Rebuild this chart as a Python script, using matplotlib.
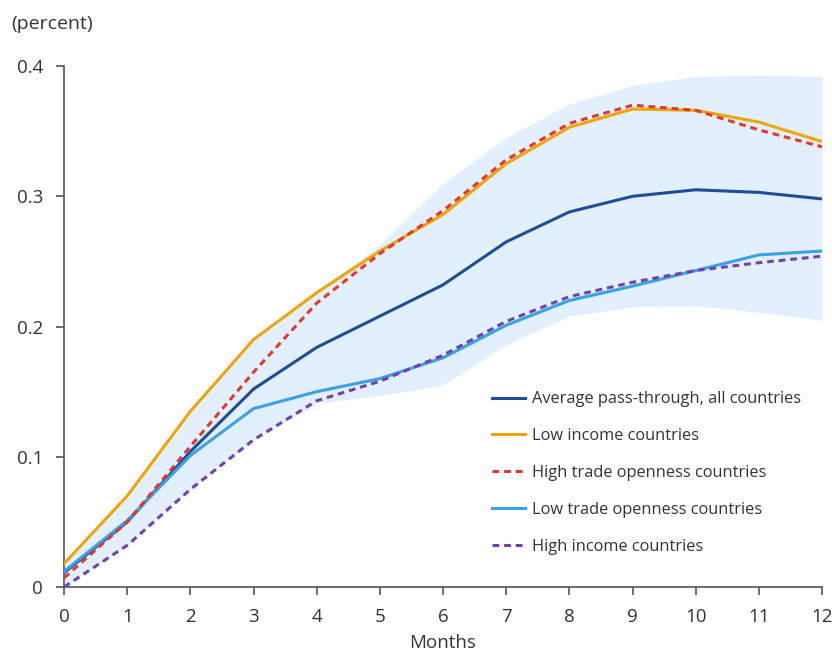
# Exchange rate pass-through by country group
import numpy as np
import matplotlib.pyplot as plt

plt.rcParams['font.family'] = ['Open Sans', 'DejaVu Sans']

months = np.arange(0, 13)

# pass-through estimates [percent]
avg_all = [0.011, 0.050, 0.104, 0.152, 0.184, 0.208, 0.232, 0.265, 0.288, 0.300, 0.305, 0.303, 0.298]
low_income = [0.018, 0.070, 0.135, 0.190, 0.226, 0.258, 0.286, 0.325, 0.353, 0.367, 0.366, 0.357, 0.342]
high_open = [0.007, 0.050, 0.108, 0.165, 0.218, 0.256, 0.289, 0.328, 0.356, 0.370, 0.366, 0.351, 0.338]
low_open = [0.012, 0.051, 0.101, 0.137, 0.150, 0.160, 0.176, 0.201, 0.220, 0.231, 0.243, 0.255, 0.258]
high_income = [0.000, 0.032, 0.075, 0.113, 0.143, 0.158, 0.178, 0.204, 0.223, 0.234, 0.243, 0.249, 0.254]

# confidence band around the average
band_hi = [0.018, 0.070, 0.135, 0.190, 0.227, 0.263, 0.310, 0.345, 0.371, 0.385, 0.392, 0.393, 0.392]
band_lo = [0.000, 0.032, 0.075, 0.113, 0.141, 0.147, 0.155, 0.186, 0.208, 0.215, 0.216, 0.211, 0.205]

gray = '#555555'
txt = '#333333'

fig = plt.figure(figsize=(8.32, 6.54), dpi=100)
ax = fig.add_axes([0.077, 0.1024, 0.911, 0.7966])

ax.fill_between(months, band_lo, band_hi, color='#e2f0fd', linewidth=0, zorder=1)

lw = 2.2
ax.plot(months, avg_all, color='#1f4e98', lw=lw, label='Average pass-through, all countries', zorder=3)
ax.plot(months, low_income, color='#eea50c', lw=lw, label='Low income countries', zorder=3)
ax.plot(months, high_open, color='#e2392c', lw=lw, ls=(0, (2.2, 1.6)), label='High trade openness countries', zorder=4)
ax.plot(months, low_open, color='#38a2e4', lw=lw, label='Low trade openness countries', zorder=3)
ax.plot(months, high_income, color='#7340b3', lw=lw, ls=(0, (2.2, 1.6)), label='High income countries', zorder=4)

ax.set_xlim(0, 12)
ax.set_ylim(0, 0.4)
ax.set_xticks(months)
ax.set_yticks([0, 0.1, 0.2, 0.3, 0.4])
ax.set_yticklabels(['0', '0.1', '0.2', '0.3', '0.4'])
ax.tick_params(axis='both', colors=gray, labelcolor=txt, labelsize=13.5, length=6, width=1.2)
ax.tick_params(axis='x', pad=9)
ax.tick_params(axis='y', pad=9)
for s in ['top', 'right']:
    ax.spines[s].set_visible(False)
for s in ['left', 'bottom']:
    ax.spines[s].set_color(gray)
    ax.spines[s].set_linewidth(1.2)

ax.set_xlabel('Months', fontsize=13.5, color=txt, labelpad=6)
fig.text(0.014, 0.963, '(percent)', fontsize=14, color=txt, va='center', ha='left')

ax.legend(loc='upper left', bbox_to_anchor=(0.545, 0.404), frameon=False, fontsize=11.8,
          handlelength=2.0, handletextpad=0.45, labelspacing=1.27, labelcolor=txt)

fig.savefig('out.png', dpi=100)
